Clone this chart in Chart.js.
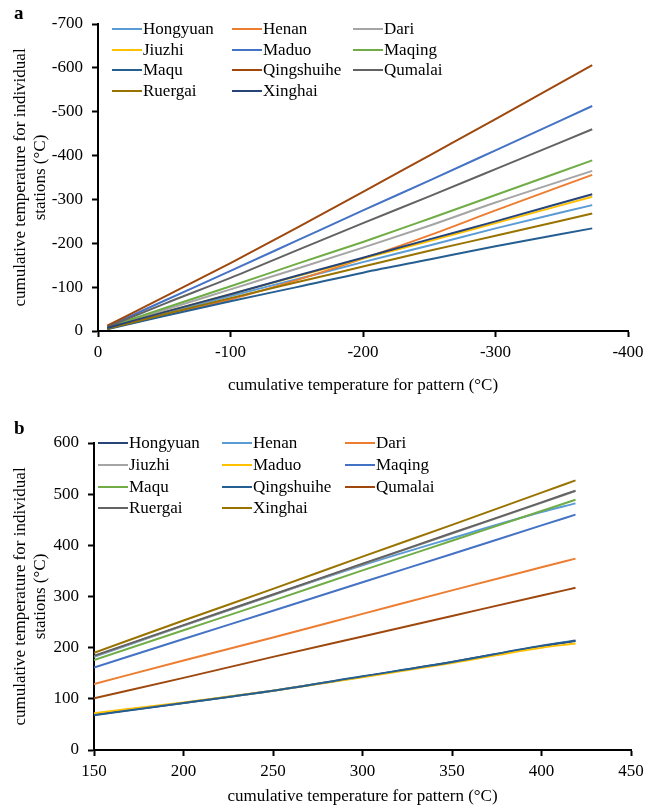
<!DOCTYPE html>
<html>
<head>
<meta charset="utf-8">
<script src="https://cdn.jsdelivr.net/npm/chart.js@4.4.1/dist/chart.umd.min.js"></script>
<style>
  body { margin:0; background:#fff; width:660px; height:807px; position:relative; overflow:hidden;
         font-family:'Liberation Serif','Times New Roman',serif; color:#000; }
  .panel { position:absolute; left:0; width:660px; }
  #boxA { top:0; height:400px; }
  #boxB { top:400px; height:407px; }
  .tag { position:absolute; font-weight:bold; font-size:19px; line-height:20px; }
  .legline { position:absolute; width:30px; height:2px; }
  .legtext { position:absolute; font-size:17px; line-height:20px; white-space:nowrap; }
</style>
</head>
<body>
<div class="panel" id="boxA"><canvas id="chartA"></canvas></div>
<div class="panel" id="boxB"><canvas id="chartB"></canvas></div>
<div class="tag" style="left:14px;top:3px;">a</div>
<div class="tag" style="left:14px;top:418px;">b</div>
<div id="legends"></div>
<script>
// Panel a: cumulative temperature (negative), pattern vs stations
var xA = [-7, -50, -100, -150, -200, -250, -300, -373];
var namesA = ['Hongyuan', 'Henan', 'Dari', 'Jiuzhi', 'Maduo', 'Maqing', 'Maqu', 'Qingshuihe', 'Qumalai', 'Ruergai', 'Xinghai'];
var colorsA = ['#5B9BD5', '#ED7D31', '#A5A5A5', '#FFC000', '#4472C4', '#70AD47', '#255E91', '#9E480E', '#636363', '#997300', '#264478'];
var hongyuanA = [-6, -40, -80, -118, -157, -195, -234, -287];
var henanA = [-5, -36, -72, -116, -165, -218, -275, -356];
var dariA = [-7, -48, -95, -142, -190, -240, -293, -365];
var jiuzhiA = [-7, -43, -84, -125, -165, -205, -246, -306];
var maduoA = [-10, -69, -137, -206, -275, -343, -412, -513];
var maqingA = [-8, -52, -102, -153, -203, -256, -310, -389];
var maquA = [-4, -34, -68, -100, -133, -163, -193, -234];
var qingshuiheA = [-12, -78, -155, -235, -317, -400, -483, -606];
var qumalaiA = [-9, -62, -121, -184, -246, -307, -369, -460];
var ruergaiA = [-5, -38, -75, -111, -147, -183, -217, -268];
var xinghaiA = [-7, -43, -84, -126, -167, -209, -250, -312];

// Panel b: positive cumulative temperature
var xB = [150, 200, 250, 300, 350, 400, 419];
var namesB = ['Hongyuan', 'Henan', 'Dari', 'Jiuzhi', 'Maduo', 'Maqing', 'Maqu', 'Qingshuihe', 'Qumalai', 'Ruergai', 'Xinghai'];
var colorsB = ['#264478', '#5B9BD5', '#ED7D31', '#A5A5A5', '#FFC000', '#4472C4', '#70AD47', '#255E91', '#9E480E', '#636363', '#997300'];
var hongyuanB = [69, 92, 116, 143, 172, 203, 213];
var henanB = [182, 243, 303, 361, 414, 465, 482];
var dariB = [129, 175, 220, 266, 312, 357, 374];
var jiuzhiB = [183, 243, 303, 363, 423, 483, 506];
var maduoB = [72, 93, 116, 142, 170, 200, 208];
var maqingB = [161, 217, 272, 328, 383, 439, 460];
var maquB = [176, 234, 292, 351, 409, 467, 489];
var qingshuiheB = [68, 92, 116, 144, 172, 204, 214];
var qumalaiB = [101, 141, 182, 222, 262, 302, 317];
var ruergaiB = [184, 244, 304, 364, 424, 484, 507];
var xinghaiB = [190, 253, 315, 378, 440, 503, 527];

var yTitle = ['cumulative temperature for individual', 'stations (\u00B0C)'];
var xTitle = 'cumulative temperature for pattern (\u00B0C)';

var serif = "'Liberation Serif', 'Times New Roman', serif";
var font17 = { family: serif, size: 17 };

function makeSets(xs, series, colors) {
    var n = series.length;
    return series.map(function (ys, i) {
        return {
            data: xs.map(function (x, k) { return { x: x, y: ys[k] }; }),
            borderColor: colors[i],
            backgroundColor: colors[i],
            borderWidth: 2,
            pointRadius: 0,
            fill: false,
            cubicInterpolationMode: 'monotone',
            order: n - i   // later series on top, like Excel
        };
    });
}

function axis(min, max, step, reverse, title, isX, size, titlePad) {
    return {
        type: 'linear',
        min: min,
        max: max,
        reverse: reverse,
        ticks: { stepSize: step, color: '#000', font: font17, padding: isX ? 5 : 9, maxRotation: 0, autoSkip: false },
        grid: { display: true, drawOnChartArea: false, drawTicks: true, tickLength: 6, tickWidth: 2, color: '#000' },
        border: { display: true, color: '#000', width: 2 },
        title: { display: true, text: title, color: '#000', font: font17, padding: titlePad },
        afterFit: function (s) {
            if (isX) {
                s.height = size;
                s.paddingLeft = 0;
                s.paddingRight = 0;
            } else {
                s.width = size;
                s.paddingTop = 0;
                s.paddingBottom = 0;
            }
        }
    };
}

function makeChart(id, xs, series, colors, xAxis, yAxis, pad) {
    var ctx = document.getElementById(id).getContext('2d');
    return new Chart(ctx, {
        type: 'line',
        data: { datasets: makeSets(xs, series, colors) },
        options: {
            responsive: true,
            maintainAspectRatio: false,
            animation: false,
            devicePixelRatio: 1,
            layout: { padding: pad },
            plugins: { legend: { display: false }, tooltip: { enabled: false } },
            scales: { x: xAxis, y: yAxis }
        }
    });
}

makeChart('chartA', xA,
    [hongyuanA, henanA, dariA, jiuzhiA, maduoA, maqingA, maquA, qingshuiheA, qumalaiA, ruergaiA, xinghaiA],
    colorsA,
    axis(-400, 0, 100, true, xTitle, true, 69, { top: 0, bottom: 4 }),
    axis(-700, 0, 100, true, yTitle, false, 98, { top: 10, bottom: 0 }),
    { left: 0, top: 24, right: 32, bottom: 0 });

makeChart('chartB', xB,
    [hongyuanB, henanB, dariB, jiuzhiB, maduoB, maqingB, maquB, qingshuiheB, qumalaiB, ruergaiB, xinghaiB],
    colorsB,
    axis(150, 450, 50, false, xTitle, true, 57, { top: 0, bottom: 0 }),
    axis(0, 600, 100, false, yTitle, false, 94, { top: 10, bottom: 0 }),
    { left: 0, top: 43, right: 29, bottom: 0 });

// Legends: 3 columns x 4 rows inside each plot
function buildLegend(names, colors, colX, rowY) {
    var box = document.getElementById('legends');
    names.forEach(function (name, i) {
        var x = colX[i % 3], y = rowY[Math.floor(i / 3)];
        var line = document.createElement('div');
        line.className = 'legline';
        line.style.left = x + 'px';
        line.style.top = (y - 1) + 'px';
        line.style.background = colors[i];
        box.appendChild(line);
        var txt = document.createElement('div');
        txt.className = 'legtext';
        txt.style.left = (x + 31) + 'px';
        txt.style.top = (y - 10) + 'px';
        txt.textContent = name;
        box.appendChild(txt);
    });
}
buildLegend(namesA, colorsA, [112, 232, 353], [29, 50, 70, 91]);
buildLegend(namesB, colorsB, [98, 222, 345], [443, 465, 487, 508]);
</script>
</body>
</html>
